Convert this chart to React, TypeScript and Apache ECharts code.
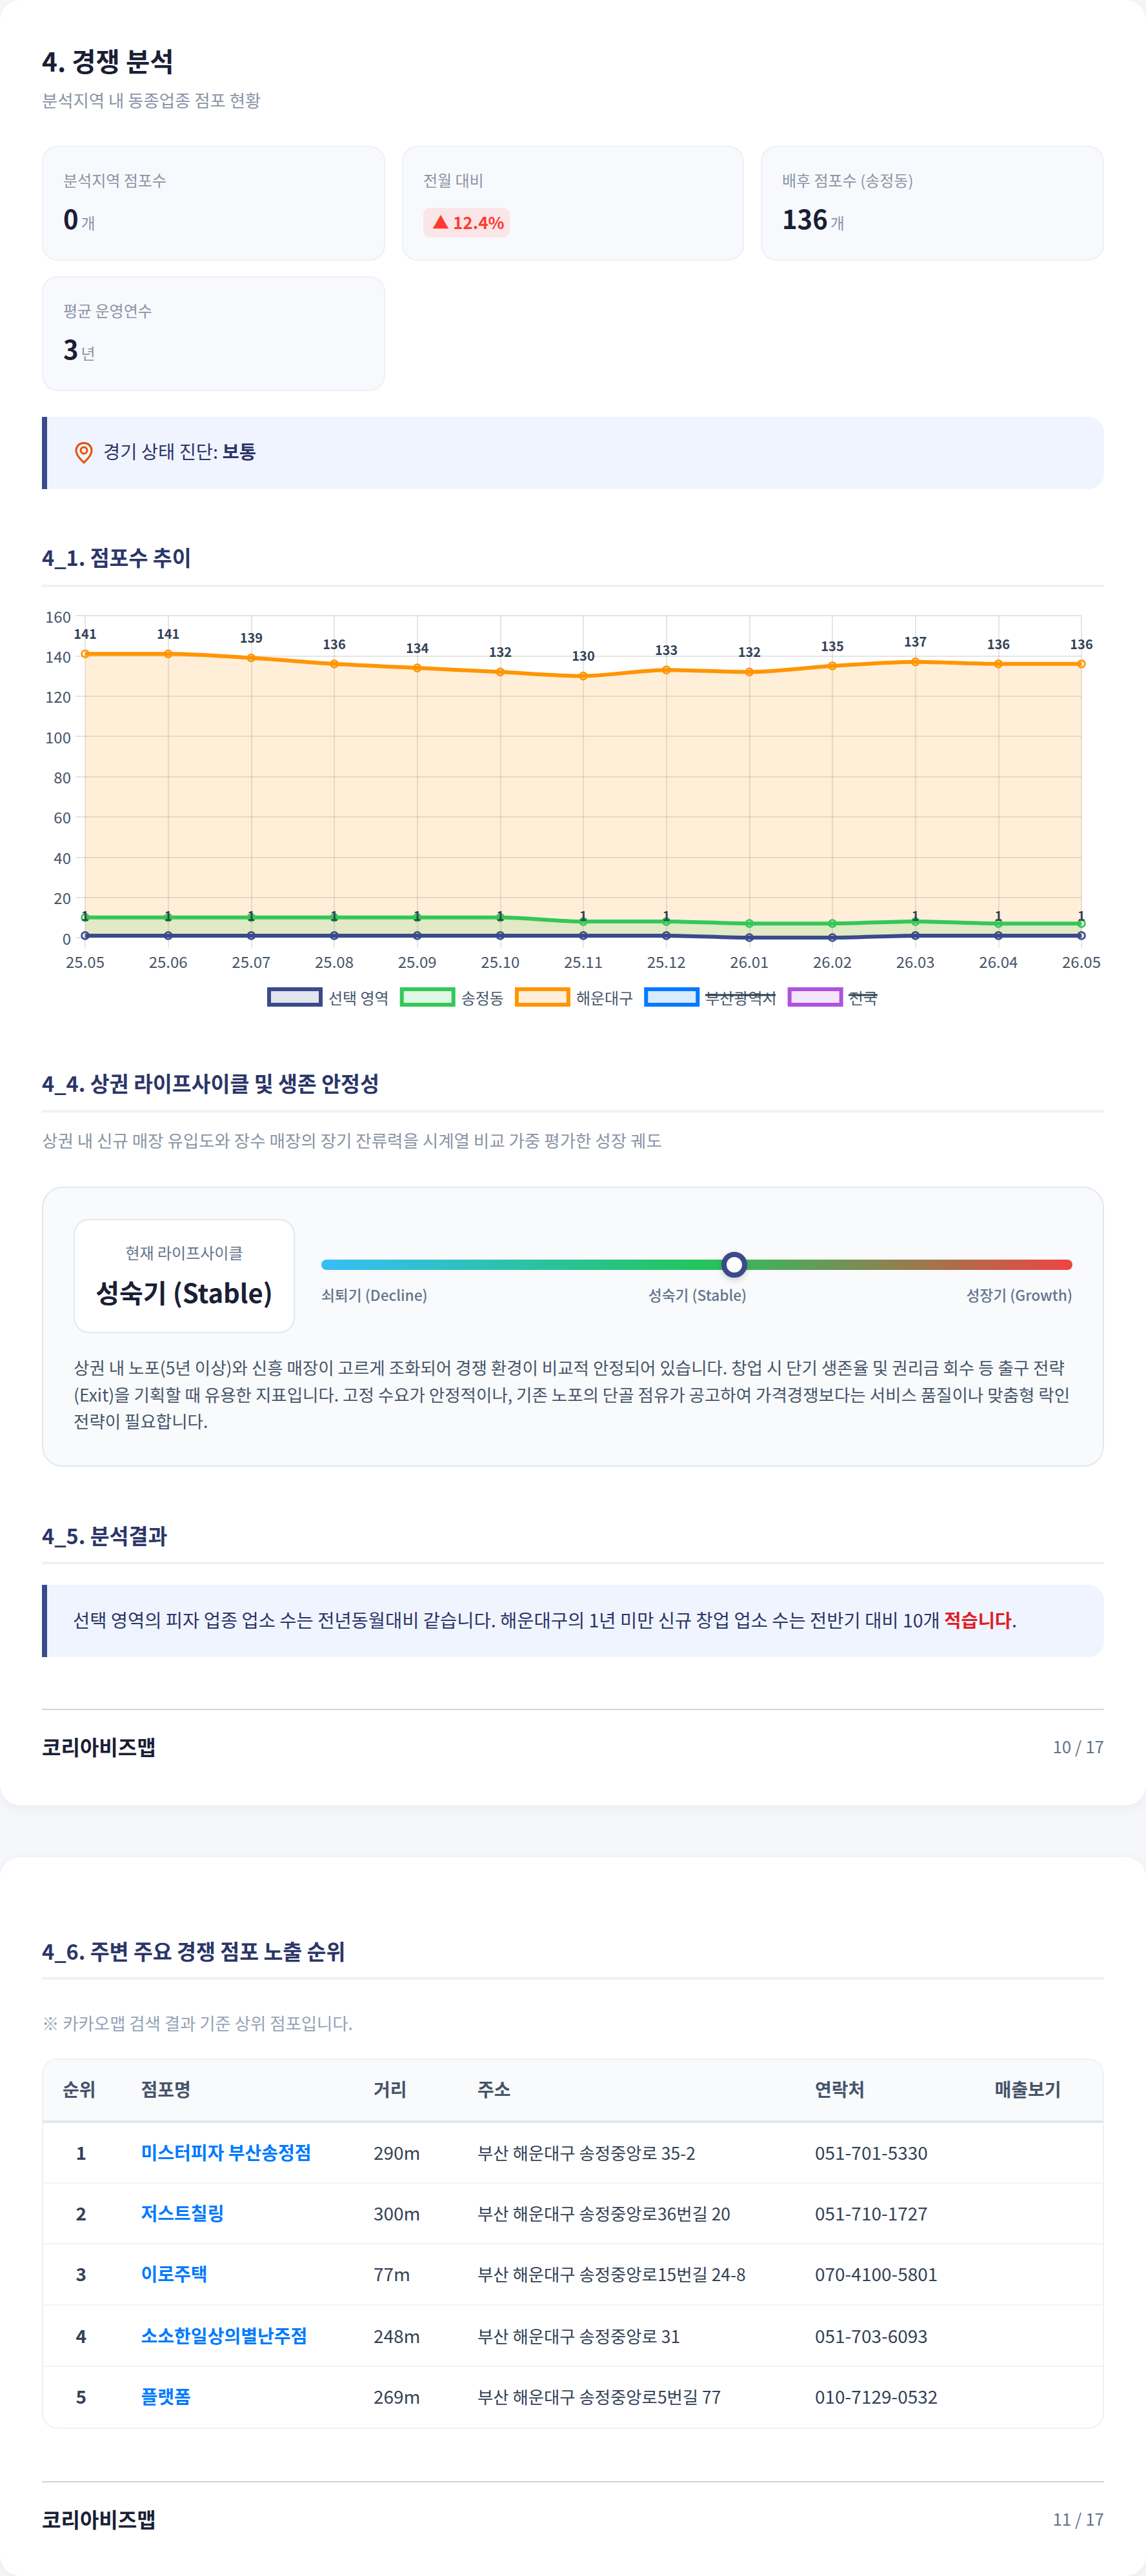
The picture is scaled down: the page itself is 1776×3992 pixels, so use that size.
import React, { useEffect, useRef } from "react";
import * as echarts from "echarts";

const FONT = '"Noto Sans CJK KR", "Noto Sans", sans-serif';

const categories = ["25.05","25.06","25.07","25.08","25.09","25.10","25.11","25.12","26.01","26.02","26.03","26.04","26.05"];
const selectedArea = [1,1,1,1,1,1,1,1,0,0,1,1,1];
const songjeong = [10,10,10,10,10,10,8,8,7,7,8,7,7];
const haeundae = [141,141,139,136,134,132,130,133,132,135,137,136,136];
const seriesNames = ["선택 영역","송정동","해운대구","부산광역시","전국"];
const seriesColors = ["#3b4a8c","#34c759","#ff9500","#007aff","#af52de"];
const seriesFills = ["rgba(59,74,140,0.15)","rgba(52,199,89,0.15)","rgba(255,149,0,0.15)","rgba(0,122,255,0.15)","rgba(175,82,222,0.15)"];

const rankHeader = ["순위","점포명","거리","주소","연락처","매출보기"];
const storeNames = ["미스터피자 부산송정점","저스트칠링","이로주택","소소한일상의별난주점","플랫폼"];
const storeDistances = ["290m","300m","77m","248m","269m"];
const storeAddresses = ["부산 해운대구 송정중앙로 35-2","부산 해운대구 송정중앙로36번길 20","부산 해운대구 송정중앙로15번길 24-8","부산 해운대구 송정중앙로 31","부산 해운대구 송정중앙로5번길 77"];
const storePhones = ["051-701-5330","051-710-1727","070-4100-5801","051-703-6093","010-7129-0532"];
const descriptionLines = [
  "상권 내 노포(5년 이상)와 신흥 매장이 고르게 조화되어 경쟁 환경이 비교적 안정되어 있습니다. 창업 시 단기 생존율 및 권리금 회수 등 출구 전략",
  "(Exit)을 기획할 때 유용한 지표입니다. 고정 수요가 안정적이나, 기존 노포의 단골 점유가 공고하여 가격경쟁보다는 서비스 품질이나 맞춤형 락인",
  "전략이 필요합니다.",
];

function Box({ x, y, w, h, style }: any) {
  return <div style={{ position: "absolute", left: x, top: y, width: w, height: h, boxSizing: "border-box", ...style }} />;
}
function T({ x, y, size, color, weight, align, children }: any) {
  const tx = align === "right" ? "-100%" : align === "center" ? "-50%" : "0";
  return (
    <div style={{ position: "absolute", left: x, top: y, transform: `translate(${tx},-50%)`, fontSize: size, color, fontWeight: weight || 400, whiteSpace: "nowrap", lineHeight: 1.2, fontFamily: FONT }}>
      {children}
    </div>
  );
}
function Section({ y, lineY, children }: any) {
  return (
    <>
      <T x={65} y={y} size={32.5} weight={700} color="#2b3668">{children}</T>
      <Box x={65} y={lineY} w={1646} h={4} style={{ background: "#f0f1f5" }} />
    </>
  );
}
function StatCard({ x, y, label, value, unit }: any) {
  return (
    <>
      <Box x={x} y={y} w={x === 623 ? 530 : 532} h={178} style={{ background: "#f8f9fd", border: "2px solid #eef0f6", borderRadius: 24 }} />
      <T x={x + 33} y={y + 53} size={24} color="#8a94a6">{label}</T>
      {value !== undefined && (
        <T x={x + 33} y={y + 112} size={40} weight={700} color="#1a1f36">
          {value}
          <span style={{ fontSize: 24, fontWeight: 400, color: "#8a94a6", marginLeft: 4 }}>{unit}</span>
        </T>
      )}
    </>
  );
}
function Footer({ lineY, y, page }: any) {
  return (
    <>
      <Box x={65} y={lineY} w={1646} h={2} style={{ background: "#cbd5e1" }} />
      <T x={65} y={y} size={32} weight={700} color="#1a1f36">코리아비즈맵</T>
      <T x={1711} y={y} size={26} align="right" color="#64748b">{page}</T>
    </>
  );
}

function TrendChart() {
  const ref = useRef<HTMLDivElement>(null);
  useEffect(() => {
    const chart = echarts.init(ref.current!, undefined, { renderer: "svg" });
    const grid = "rgba(0,0,0,0.1)";
    const values = [selectedArea, songjeong, haeundae, [], []];
    const zs = [6, 5, 4, 3, 2];
    chart.setOption({
      animation: false,
      textStyle: { fontFamily: FONT },
      grid: { left: 67, right: 35, top: 34, bottom: 127 },
      legend: {
        left: 344,
        top: 605,
        itemWidth: 80,
        itemHeight: 24,
        itemGap: 17,
        icon: "rect",
        textStyle: { fontSize: 24, color: "#475569", fontFamily: FONT, padding: [0, 0, 0, 7] },
        data: seriesNames.map((name, i) => ({
          name,
          itemStyle: { color: seriesFills[i], borderColor: seriesColors[i], borderWidth: 6 },
        })),
      },
      xAxis: {
        type: "category",
        boundaryGap: false,
        data: categories,
        axisLine: { show: false },
        axisTick: { show: true, length: 16, lineStyle: { color: grid, width: 2 } },
        splitLine: { show: true, lineStyle: { color: grid, width: 2 } },
        axisLabel: { fontSize: 24, color: "#475569", margin: 24, fontFamily: FONT, interval: 0, hideOverlap: false },
      },
      yAxis: {
        type: "value",
        min: 0,
        max: 160,
        interval: 20,
        axisLine: { show: false },
        axisTick: { show: true, length: 15, lineStyle: { color: grid, width: 2 } },
        splitLine: { show: true, lineStyle: { color: grid, width: 2 } },
        axisLabel: { fontSize: 24, color: "#475569", margin: 22, fontFamily: FONT },
      },
      series: seriesNames.map((name, i) => ({
        name,
        type: "line",
        data: values[i],
        z: zs[i],
        smooth: 0.3,
        symbol: "circle",
        symbolSize: 11,
        showSymbol: true,
        lineStyle: { color: seriesColors[i], width: 6 },
        itemStyle: { color: seriesFills[i], borderColor: seriesColors[i], borderWidth: 2.5 },
        areaStyle: { color: seriesFills[i], origin: "start", opacity: 1 },
        label: {
          show: i === 0 || i === 2,
          position: "top",
          distance: 15,
          fontSize: 20,
          fontWeight: 700,
          color: "#334155",
          fontFamily: FONT,
          formatter: (p: any) => (p.value ? String(p.value) : ""),
        },
      })),
      graphic: [
        { type: "line", silent: true, z: 100, shape: { x1: 1028, y1: 622, x2: 1137, y2: 622 }, style: { stroke: "#334155", lineWidth: 3 } },
        { type: "line", silent: true, z: 100, shape: { x1: 1250, y1: 622, x2: 1295, y2: 622 }, style: { stroke: "#334155", lineWidth: 3 } },
      ],
    });
    return () => chart.dispose();
  }, []);
  return <div ref={ref} style={{ position: "absolute", left: 65, top: 920, width: 1646, height: 660 }} />;
}

export default function App() {
  useEffect(() => {
    document.body.style.margin = "0";
  }, []);
  const rowY = [3335.6, 3430, 3524, 3620, 3714];
  const rowLines = [3382, 3476, 3571, 3666];
  const colX = [97, 218.6, 579, 740, 1263, 1541.6];
  return (
    <div style={{ position: "relative", width: 1776, height: 3992, background: "#f5f7fb", overflow: "hidden", fontFamily: FONT }}>
      <Box x={0} y={0} w={1776} h={2798} style={{ background: "#fff", borderRadius: 32, boxShadow: "0 4px 20px rgba(0,0,0,0.05)" }} />
      <Box x={0} y={2878} w={1776} h={1114} style={{ background: "#fff", borderRadius: 32, boxShadow: "0 4px 20px rgba(0,0,0,0.05)" }} />

      <T x={65} y={94} size={40.5} weight={700} color="#1a1f36">4. 경쟁 분석</T>
      <T x={65} y={155} size={26.4} color="#8a94a6">분석지역 내 동종업종 점포 현황</T>

      <StatCard x={65} y={226} label="분석지역 점포수" value="0" unit="개" />
      <StatCard x={623} y={226} label="전월 대비" />
      <Box x={656} y={322} w={134} h={46} style={{ background: "#fae6e8", borderRadius: 10 }} />
      <T x={670} y={344} size={26} weight={700} color="#ff3b30">▲</T>
      <T x={702} y={344} size={26} weight={700} color="#ff3b30">12.4%</T>
      <StatCard x={1179} y={226} label="배후 점포수 (송정동)" value="136" unit="개" />
      <StatCard x={65} y={428} label="평균 운영연수" value="3" unit="년" />

      <Box x={65} y={646} w={1646} h={112} style={{ background: "#f0f4ff", borderLeft: "8px solid #3b4a8c", borderRadius: "0 24px 24px 0" }} />
      <svg style={{ position: "absolute", left: 114, top: 684 }} width="32" height="36" viewBox="0 0 32 36" fill="none">
        <path d="M16 2.5C9 2.5 4 7.5 4 14c0 7 6 13 12 19 6-6 12-12 12-19C28 7.5 23 2.5 16 2.5Z" stroke="#e65100" strokeWidth="3" />
        <circle cx="16" cy="14" r="5" stroke="#e65100" strokeWidth="3" />
      </svg>
      <T x={160} y={699} size={28.5} color="#2b3668">
        경기 상태 진단: <b>보통</b>
      </T>

      <Section y={862} lineY={906}>4_1. 점포수 추이</Section>
      <TrendChart />

      <Section y={1677} lineY={1720}>4_4. 상권 라이프사이클 및 생존 안정성</Section>
      <T x={65} y={1767} size={26.5} color="#8a94a6">상권 내 신규 매장 유입도와 장수 매장의 장기 잔류력을 시계열 비교 가중 평가한 성장 궤도</T>
      <Box x={65} y={1839} w={1646} h={434} style={{ background: "#f8fafc", border: "2px solid #e2e8f0", borderRadius: 32 }} />
      <Box x={114} y={1889} w={343} h={177} style={{ background: "#fff", border: "2px solid #e2e8f0", borderRadius: 24 }} />
      <T x={285.5} y={1941} size={24} align="center" color="#64748b">현재 라이프사이클</T>
      <T x={285.5} y={2002} size={40} weight={700} align="center" color="#1a1f36">성숙기 (Stable)</T>
      <Box x={498} y={1952} w={1164} h={16} style={{ borderRadius: 8, background: "linear-gradient(90deg,#38bdf8 0%,#22c55e 50%,#ef4444 100%)" }} />
      <Box x={1118} y={1940} w={40} h={40} style={{ background: "#fff", border: "8px solid #3b4a8c", borderRadius: "50%", boxShadow: "0 4px 10px rgba(0,0,0,0.15)" }} />
      <T x={498} y={2007} size={22.7} weight={500} color="#64748b">쇠퇴기 (Decline)</T>
      <T x={1081} y={2007} size={22.7} weight={500} align="center" color="#64748b">성숙기 (Stable)</T>
      <T x={1662} y={2007} size={22.7} weight={500} align="right" color="#64748b">성장기 (Growth)</T>
      {descriptionLines.map((line, i) => (
        <T key={i} x={114} y={2119 + i * 41.5} size={26.5} color="#475569">{line}</T>
      ))}

      <Section y={2378} lineY={2420}>4_5. 분석결과</Section>
      <Box x={65} y={2456} w={1646} h={112} style={{ background: "#f0f4ff", borderLeft: "8px solid #3b4a8c", borderRadius: "0 24px 24px 0" }} />
      <T x={113} y={2510} size={28.5} color="#2b3668">
        선택 영역의 피자 업종 업소 수는 전년동월대비 같습니다. 해운대구의 1년 미만 신규 창업 업소 수는 전반기 대비 10개 <b style={{ color: "#e01e26" }}>적습니다</b>.
      </T>
      <Footer lineY={2648} y={2706} page="10 / 17" />

      <Section y={3022} lineY={3064}>4_6. 주변 주요 경쟁 점포 노출 순위</Section>
      <T x={65} y={3135} size={26.4} color="#94a3b8">※ 카카오맵 검색 결과 기준 상위 점포입니다.</T>

      <Box x={65} y={3190} w={1646} h={574} style={{ border: "2px solid #eef0f5", borderRadius: 24 }} />
      <Box x={67} y={3192} w={1642} h={98} style={{ background: "#f8fafc", borderBottom: "4px solid #e2e8f0", borderRadius: "22px 22px 0 0" }} />
      {rankHeader.map((h, i) => (
        <T key={h} x={colX[i]} y={3237.5} size={28} weight={700} color="#475569">{h}</T>
      ))}
      {rowLines.map((y) => (
        <Box key={y} x={67} y={y} w={1642} h={2} style={{ background: "#f1f3f7" }} />
      ))}
      {storeNames.map((name, i) => (
        <React.Fragment key={name}>
          <T x={125.7} y={rowY[i]} size={28} weight={700} align="center" color="#334155">{i + 1}</T>
          <T x={colX[1]} y={rowY[i]} size={28} weight={700} color="#007aff">{name}</T>
          <T x={colX[2]} y={rowY[i]} size={28} color="#334155">{storeDistances[i]}</T>
          <T x={colX[3]} y={rowY[i]} size={26.4} color="#334155">{storeAddresses[i]}</T>
          <T x={colX[4]} y={rowY[i]} size={28} color="#334155">{storePhones[i]}</T>
        </React.Fragment>
      ))}
      <Footer lineY={3845} y={3903} page="11 / 17" />
    </div>
  );
}
